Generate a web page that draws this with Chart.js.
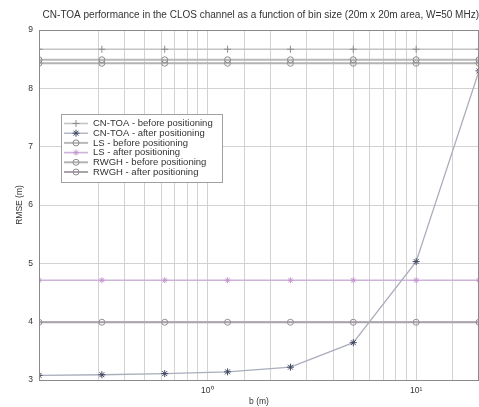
<!DOCTYPE html>
<html>
<head>
<meta charset="utf-8">
<script src="https://cdn.jsdelivr.net/npm/chart.js@4/dist/chart.umd.min.js"></script>
<style>
  html, body { margin: 0; padding: 0; background: #fff; }
  #wrap { width: 479px; height: 407px; }
</style>
</head>
<body>
<div id="wrap"><canvas id="c" width="479" height="407"></canvas></div>
<script>
// Bin sizes b (m) and RMSE (m) per method
const binSizes    = [0.15625, 0.3125, 0.625, 1.25, 2.5, 5, 10, 20];
const cntoaBefore = [8.67, 8.67, 8.67, 8.67, 8.67, 8.67, 8.67, 8.67];
const cntoaAfter  = [3.08, 3.09, 3.11, 3.14, 3.22, 3.64, 5.03, 8.30];
const lsBefore    = [8.49, 8.49, 8.49, 8.49, 8.49, 8.49, 8.49, 8.49];
const lsAfter     = [4.71, 4.71, 4.71, 4.71, 4.71, 4.71, 4.71, 4.71];
const rwghBefore  = [8.43, 8.43, 8.43, 8.43, 8.43, 8.43, 8.43, 8.43];
const rwghAfter   = [3.99, 3.99, 3.99, 3.99, 3.99, 3.99, 3.99, 3.99];
const seriesLabels = [
  'CN-TOA - before positioning',
  'CN-TOA - after positioning',
  'LS - before positioning',
  'LS - after positioning',
  'RWGH - before positioning',
  'RWGH - after positioning'
];
const xTickLabels = { 1: '10\u2070', 10: '10\u00B9' };
const yTicks = [3, 4, 5, 6, 7, 8, 9];

const FONT = 'Liberation Sans, Arial, sans-serif';
const pts = ys => binSizes.map((x, i) => ({ x: x, y: ys[i] }));

const styles = [
  { line: '#c4c4c4', mark: '#8c8c8c', shape: 'cross',  r: 3.5, w: 1.6 },
  { line: '#a9aebb', mark: '#3e4660', shape: 'star',   r: 3.5, w: 1.3 },
  { line: '#b9b9b9', mark: '#8a8a8a', shape: 'circle', r: 3,   w: 2.0 },
  { line: '#cdb2dc', mark: '#c796cf', shape: 'star',   r: 3,   w: 1.6 },
  { line: '#b3b3b3', mark: '#8f8f8f', shape: 'circle', r: 3,   w: 2.0 },
  { line: '#aaa3ab', mark: '#958c97', shape: 'circle', r: 3,   w: 2.0 }
];
const series = [cntoaBefore, cntoaAfter, lsBefore, lsAfter, rwghBefore, rwghAfter];

const datasets = series.map((ys, i) => ({
  label: seriesLabels[i],
  data: pts(ys),
  borderColor: styles[i].line,
  borderWidth: styles[i].w,
  pointStyle: styles[i].shape,
  pointRadius: styles[i].r,
  pointBorderColor: styles[i].mark,
  pointBackgroundColor: 'rgba(255,255,255,0)',
  pointBorderWidth: 1,
  tension: 0
}));

// Framed plot box plus an inset legend box drawn from the datasets
const boxAndLegend = {
  id: 'boxAndLegend',
  afterDatasetsDraw(chart) {
    const { ctx, chartArea: a } = chart;
    ctx.save();
    ctx.strokeStyle = '#8a8a8a';
    ctx.lineWidth = 1;
    ctx.strokeRect(a.left + 0.5, a.top + 0.5, a.right - a.left - 1, a.bottom - a.top);

    const bx = 61, by = 114, bw = 161, bh = 68;
    ctx.fillStyle = '#ffffff';
    ctx.fillRect(bx, by, bw, bh);
    ctx.strokeStyle = '#a0a0a0';
    ctx.strokeRect(bx + 0.5, by + 0.5, bw, bh);
    ctx.font = '9.5px ' + FONT;
    ctx.textBaseline = 'middle';
    chart.data.datasets.forEach((ds, i) => {
      const y = 123.5 + i * 9.7;
      ctx.strokeStyle = ds.borderColor;
      ctx.lineWidth = ds.borderWidth;
      ctx.beginPath();
      ctx.moveTo(64, y);
      ctx.lineTo(88, y);
      ctx.stroke();
      ctx.strokeStyle = ds.pointBorderColor;
      ctx.fillStyle = 'rgba(255,255,255,0)';
      ctx.lineWidth = 1;
      Chart.helpers.drawPoint(ctx, { pointStyle: ds.pointStyle, radius: ds.pointRadius, rotation: 0, borderWidth: 1 }, 76, y);
      ctx.fillStyle = '#333';
      ctx.fillText(ds.label, 93, y);
    });
    ctx.restore();
  }
};

new Chart(document.getElementById('c'), {
  type: 'line',
  data: { datasets: datasets },
  plugins: [boxAndLegend],
  options: {
    responsive: false,
    animation: false,
    layout: { autoPadding: false, padding: { left: 0, right: 0, top: 0, bottom: 0 } },
    plugins: {
      legend: { display: false },
      tooltip: { enabled: false },
      title: {
        display: true,
        text: 'CN-TOA performance in the CLOS channel as a function of bin size (20m x 20m area, W=50 MHz)',
        color: '#333',
        font: { family: FONT, size: 10, weight: 'normal', lineHeight: 1.2 },
        padding: { top: 9, bottom: 9 },
        align: 'end'
      }
    },
    scales: {
      x: {
        type: 'logarithmic',
        min: binSizes[0],
        max: binSizes[binSizes.length - 1],
        afterFit(s) { s.height = 27; s.paddingLeft = 0; s.paddingRight = 0; },
        border: { display: true, color: '#8a8a8a', width: 1 },
        grid: { color: '#d2d2d2', borderDash: [2, 2], drawTicks: false, lineWidth: 1 },
        ticks: {
          autoSkip: false,
          maxRotation: 0,
          padding: 6,
          color: '#333',
          font: { family: FONT, size: 8.5 },
          callback: v => (xTickLabels[v] !== undefined ? xTickLabels[v] : '')
        },
        title: {
          display: true,
          text: 'b (m)',
          color: '#333',
          font: { family: FONT, size: 8.5 },
          padding: { top: 0, bottom: 0 }
        }
      },
      y: {
        min: yTicks[0],
        max: yTicks[yTicks.length - 1],
        afterFit(s) { s.width = 39; s.paddingTop = 0; s.paddingBottom = 0; },
        afterBuildTicks(s) { s.ticks = yTicks.map(v => ({ value: v })); },
        border: { display: true, color: '#8a8a8a', width: 1 },
        grid: { color: '#d2d2d2', borderDash: [2, 2], drawTicks: false, lineWidth: 1 },
        ticks: {
          padding: 6,
          color: '#333',
          font: { family: FONT, size: 8.5 }
        },
        title: {
          display: true,
          text: 'RMSE (m)',
          color: '#333',
          font: { family: FONT, size: 8.5 },
          padding: { top: 15, bottom: 0 }
        }
      }
    }
  }
});
</script>
</body>
</html>
